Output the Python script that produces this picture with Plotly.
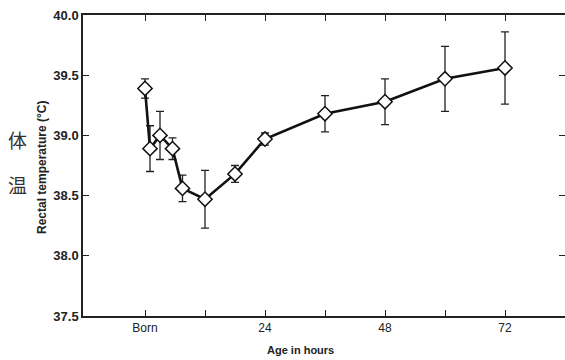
import plotly.graph_objects as go

# Data
hours = [0, 1, 3, 5.5, 7.5, 12, 18, 24, 36, 48, 60, 72]
temp = [39.39, 38.89, 39.00, 38.89, 38.56, 38.47, 38.68, 38.97, 39.18, 39.28, 39.47, 39.56]
err = [0.08, 0.19, 0.20, 0.09, 0.11, 0.24, 0.07, 0.05, 0.15, 0.19, 0.27, 0.30]

x_tickvals = [0, 12, 24, 36, 48, 60, 72]
x_ticktext = ["Born", "", "24", "", "48", "", "72"]
y_tickvals = [37.5, 38.0, 38.5, 39.0, 39.5, 40.0]
y_ticktext = ["37.5", "38.0", "38.5", "39.0", "39.5", "40.0"]

fig = go.Figure()
fig.add_trace(go.Scatter(
    x=hours, y=temp,
    mode="lines+markers",
    line=dict(color="#111", width=2.6),
    marker=dict(symbol="diamond", size=11, color="white",
                line=dict(color="#111", width=1.5)),
    error_y=dict(type="data", array=err, visible=True,
                 color="#222", thickness=1.3, width=4),
    showlegend=False,
))
# invisible trace to carry the right-hand tick axis
fig.add_trace(go.Scatter(
    x=[hours[0]], y=[temp[0]], yaxis="y2", mode="markers",
    marker=dict(opacity=0), hoverinfo="skip", showlegend=False,
))

tick_common = dict(
    ticks="inside", ticklen=6, tickwidth=1.3, tickcolor="#222",
    showgrid=False, zeroline=False,
)

fig.update_xaxes(
    range=[-12.4, 84.0], tickvals=x_tickvals, ticktext=x_ticktext,
    showline=True, linecolor="#222", linewidth=1.5, mirror="ticks",
    tickfont=dict(family="Liberation Sans, Arial", size=12, color="#222"),
    **tick_common,
)
fig.update_layout(
    yaxis=dict(
        range=[37.5, 40.0], tickvals=y_tickvals, ticktext=y_ticktext,
        showline=True, linecolor="#222", linewidth=1.5, mirror=False,
        tickfont=dict(family="Liberation Sans, Arial", size=13, color="#222", weight="bold"),
        **tick_common,
    ),
    yaxis2=dict(
        range=[37.5, 40.0], tickvals=y_tickvals, overlaying="y", side="right",
        showline=False, showticklabels=False, **tick_common,
    ),
)

fig.add_annotation(
    text="Age in hours", xref="paper", yref="paper",
    x=(300 - 83) / (565 - 83), y=-(350 - 316) / (316 - 15),
    showarrow=False, xanchor="center", yanchor="middle",
    font=dict(family="Liberation Sans, Arial", size=11, color="#222", weight="bold"),
)
fig.add_annotation(
    text="Rectal temperature (°C)", xref="paper", yref="paper",
    x=-(83 - 42) / (565 - 83), y=(316 - 167) / (316 - 15), textangle=-90,
    showarrow=False, xanchor="center", yanchor="middle",
    font=dict(family="Liberation Sans, Arial", size=12, color="#222", weight="bold"),
)
for ch, ypix in [("体", 139), ("温", 185)]:
    fig.add_annotation(
        text=ch, xref="paper", yref="paper",
        x=-(83 - 17) / (565 - 83), y=(316 - ypix) / (316 - 15),
        showarrow=False, xanchor="center", yanchor="middle",
        font=dict(family="Noto Sans CJK SC", size=19, color="#333"),
    )

fig.update_layout(
    width=565, height=360,
    margin=dict(l=83, r=0, t=15, b=44),
    plot_bgcolor="white", paper_bgcolor="white",
)

fig.write_html(
    "out.html",
    config={"displayModeBar": False},
    post_script="document.body.style.margin='0';document.body.style.overflow='hidden';",
)
